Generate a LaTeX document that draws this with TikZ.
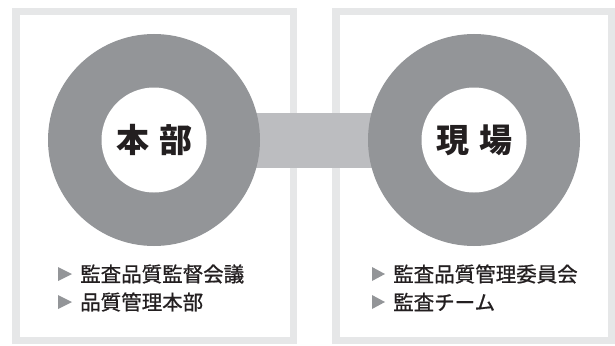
\documentclass[tikz,border=0pt]{standalone}
\usepackage{fontspec}
\usetikzlibrary{calc}
\newfontfamily\cjk{Noto Sans CJK JP}
\newfontfamily\cjkm{Noto Sans CJK JP}[FakeBold=0.9]
\definecolor{frameg}{HTML}{E6E7E8}
\definecolor{ringg}{HTML}{939598}
\definecolor{linkg}{HTML}{BCBDC0}
\definecolor{txt}{HTML}{231F20}
\tikzset{
  panel/.style={draw=frameg, line width=7.5pt},
  ring/.style={circle, fill=ringg, minimum size=212pt, inner sep=0pt},
  hole/.style={circle, fill=white, minimum size=105pt, inner sep=0pt, font=\cjk\bfseries\fontsize{33}{36}\selectfont, text=txt},
  item/.style={anchor=west, inner sep=0pt, font=\cjkm\fontsize{20.5}{24}\selectfont, text=txt},
  tri/.style={fill=ringg}
}
\begin{document}
\begin{tikzpicture}[x=1pt,y=-1pt]
\useasboundingbox (0,0) rectangle (615,345);
% panels
\draw[panel] (15.75,11.75) rectangle (293.25,340.5);
\draw[panel] (335.75,11.75) rectangle (611.25,340.5);
% centres
\coordinate (Lc) at (154,140);
\coordinate (Rc) at (474,140);
% link
\fill[linkg] ($(Lc)+(100,-27.5)$) rectangle ($(Rc)+(-100,27.5)$);
% rings
\node[ring] (L) at (Lc) {};
\node[ring] (R) at (Rc) {};
\node[hole] (Lt) at (L) {本\hspace{10pt}部};
\node[hole] (Rt) at (R) {現\hspace{10pt}場};
% bullets left
\node[item] (l1) at (80,274) {監査品質監督会議};
\node[item] (l2) at (80,302) {品質管理本部};
\fill[tri] ($(l1.west)+(-22,-7)$) -- ++(14,7) -- ++(-14,7) -- cycle;
\fill[tri] ($(l2.west)+(-22,-7)$) -- ++(14,7) -- ++(-14,7) -- cycle;
% bullets right
\node[item] (r1) at (393,274) {監査品質管理委員会};
\node[item] (r2) at (393,302) {監査チーム};
\fill[tri] ($(r1.west)+(-21,-7)$) -- ++(13,7) -- ++(-13,7) -- cycle;
\fill[tri] ($(r2.west)+(-21,-7)$) -- ++(13,7) -- ++(-13,7) -- cycle;
\end{tikzpicture}
\end{document}
